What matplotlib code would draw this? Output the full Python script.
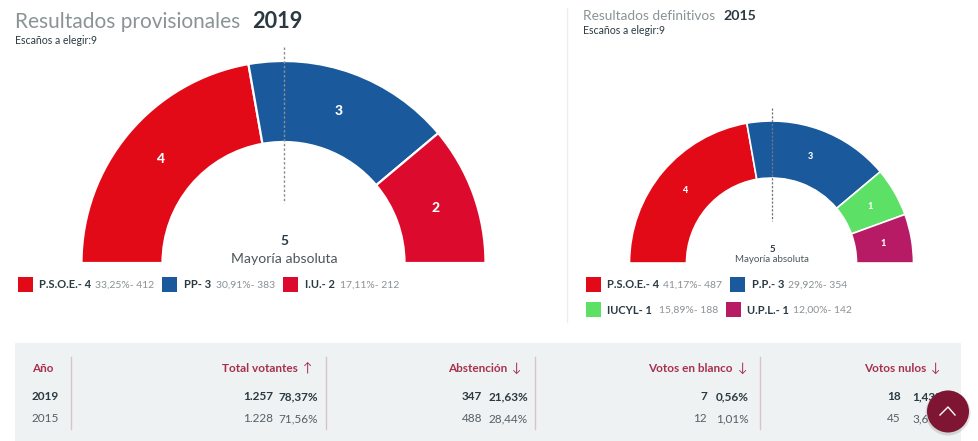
import math
import matplotlib
matplotlib.use('Agg')
import matplotlib.pyplot as plt
from matplotlib.patches import Circle, Rectangle

plt.rcParams['font.family'] = ['Lato', 'DejaVu Sans']

W, H = 979, 441
DARK = '#2b3a42'
GREY = '#8b9195'
WINE = '#a5314f'
RED = '#e30a17'
BLUE = '#1a5a9c'
CRIM = '#dc0a2d'
GREEN = '#5ce065'
PURPLE = '#b81b66'

# 2019
parties_19 = ['P.S.O.E.', 'PP', 'I.U.']
seats_19 = [4, 3, 2]
pct_19 = ['33,25%', '30,91%', '17,11%']
votes_19 = [412, 383, 212]
colors_19 = [RED, BLUE, CRIM]

# 2015
parties_15 = ['P.S.O.E.', 'P.P.', 'IUCYL', 'U.P.L.']
seats_15 = [4, 3, 1, 1]
pct_15 = ['41,17%', '29,92%', '15,89%', '12,00%']
votes_15 = [487, 354, 188, 142]
colors_15 = [RED, BLUE, GREEN, PURPLE]

# table
headers = ['Año', 'Total votantes', 'Abstención', 'Votos en blanco', 'Votos nulos']
arrows = ['', '↑', '↓', '↓', '↓']
years = ['2019', '2015']
counts_19 = ['1.257', '347', '7', '18']
rates_19 = ['78,37%', '21,63%', '0,56%', '1,43%']
counts_15 = ['1.228', '488', '12', '45']
rates_15 = ['71,56%', '28,44%', '1,01%', '3,61%']

fig = plt.figure(figsize=(W / 100, H / 100), dpi=100)
ax = fig.add_axes([0, 0, 1, 1])


def Y(y):
    return H - y


def hemicycle(seats, colors, cx, base, r, r_in, fs, lw):
    total = sum(seats)
    # hidden lower half so the seats fill only the top half
    wedges, _ = ax.pie(seats + [total], colors=colors + ['none'], startangle=180, counterclock=False,
                       center=(cx, Y(base)), radius=r, frame=True,
                       wedgeprops=dict(width=r - r_in, edgecolor='white', linewidth=lw))
    wedges[-1].set_visible(False)
    rm = (r + r_in) / 2
    done = 0
    for s in seats:
        a = math.pi - (done + s / 2) / total * math.pi
        ax.text(cx + rm * math.cos(a), Y(base) + rm * math.sin(a), str(s), color='white',
                fontsize=fs, fontweight=900, ha='center', va='center', zorder=4)
        done += s


hemicycle(seats_19, colors_19, 283.5, 263, 202, 121, 10, 1.6)
hemicycle(seats_15, colors_15, 771.5, 263, 142, 85, 6.5, 1.2)

ax.plot([284, 284], [Y(47), Y(203)], color='#8a8f92', lw=1.0, ls=(0, (1.8, 1.5)), zorder=5)
ax.plot([772, 772], [Y(108), Y(221)], color='#6f767a', lw=0.9, ls=(0, (1.8, 1.3)), zorder=5)
ax.plot([567, 567], [Y(8), Y(322)], color='#eeeeee', lw=1)

# titles
ax.text(15, Y(22), 'Resultados provisionales', fontsize=15, color='#8b9397', va='center')
ax.text(252, Y(21), '2019', fontsize=15.7, fontweight='bold', color=DARK, va='center')
ax.text(15, Y(40), 'Escaños a elegir:9', fontsize=7.6, color=DARK, va='center')
ax.text(583, Y(16), 'Resultados definitivos', fontsize=9.8, color='#8b9397', va='center')
ax.text(723, Y(16), '2015', fontsize=10.2, fontweight='bold', color=DARK, va='center')
ax.text(583, Y(31), 'Escaños a elegir:9', fontsize=7.6, color=DARK, va='center')

ax.text(284, Y(241), '5', fontsize=10, fontweight='bold', color=DARK, ha='center', va='center')
ax.text(284, Y(259), 'Mayoría absoluta', fontsize=10.1, color='#4d565b', ha='center', va='center')
ax.text(772, Y(249), '5', fontsize=7, fontweight='bold', color=DARK, ha='center', va='center')
ax.text(772, Y(260), 'Mayoría absoluta', fontsize=7, color='#4d565b', ha='center', va='center')


def legend_item(x_box, x_name, x_pct, y, name, seat, pct, votes, color):
    ax.add_patch(Rectangle((x_box, Y(y + 7)), 15, 15, color=color, lw=0))
    ax.text(x_name, Y(y), f'{name}- {seat}', fontsize=8, fontweight='bold', color=DARK, va='center')
    ax.text(x_pct, Y(y), f'{pct}- {votes}', fontsize=7.5, color=GREY, va='center')


for i, x_box, x_name, x_pct in zip(range(3), [18, 162, 283], [39, 184, 305], [95, 216, 340]):
    legend_item(x_box, x_name, x_pct, 285, parties_19[i], seats_19[i], pct_19[i], votes_19[i], colors_19[i])

legend_item(586, 607, 663, 285, parties_15[0], seats_15[0], pct_15[0], votes_15[0], colors_15[0])
legend_item(730, 752, 788, 285, parties_15[1], seats_15[1], pct_15[1], votes_15[1], colors_15[1])
legend_item(586, 607, 659, 310, parties_15[2], seats_15[2], pct_15[2], votes_15[2], colors_15[2])
legend_item(726, 747, 793, 310, parties_15[3], seats_15[3], pct_15[3], votes_15[3], colors_15[3])

# table
ax.add_patch(Rectangle((15, 0), 946, Y(343), color='#eff2f2', lw=0, zorder=0))
for x in [71, 326, 535, 760]:
    ax.plot([x, x], [Y(357), Y(429)], color='#d9c3c8', lw=1)
ax.text(32, Y(368), headers[0], fontsize=8.4, fontweight='bold', color=WINE, va='center')
ax.text(32, Y(397), years[0], fontsize=8.5, fontweight='bold', color=DARK, va='center')
ax.text(32, Y(419), years[1], fontsize=8.5, color='#555f64', va='center')

right_edges = [318, 528, 749, 945]
count_edges = [273, 482, 707, 901]
head_edges = [298, 507, 733, 926]
for i, (rx, cxr, hx) in enumerate(zip(right_edges, count_edges, head_edges)):
    ax.text(hx, Y(368), headers[i + 1], fontsize=8.45, fontweight='bold', color=WINE, ha='right', va='center')
    ax.text(hx + 5, Y(368), arrows[i + 1], fontsize=9, color=WINE, va='center')
    ax.text(cxr, Y(397), counts_19[i], fontsize=8.5, fontweight='bold', color=DARK, ha='right', va='center')
    ax.text(rx, Y(397), rates_19[i], fontsize=8.5, fontweight='bold', color=DARK, ha='right', va='center')
    ax.text(cxr, Y(419), counts_15[i], fontsize=8.5, color='#555f64', ha='right', va='center')
    ax.text(rx, Y(419), rates_15[i], fontsize=8.5, color='#555f64', ha='right', va='center')

# scroll-to-top button
ax.add_patch(Circle((948, Y(413)), 22.5, color='#000000', alpha=0.12, lw=0, zorder=6))
ax.add_patch(Circle((948, Y(411.5)), 21, color='#7d1533', lw=0, zorder=7))
ax.plot([940, 948, 955], [Y(415), Y(407), Y(415)], color='white', lw=1.0, zorder=8)

ax.set_xlim(0, W)
ax.set_ylim(0, H)
ax.set_aspect('auto')
ax.axis('off')
fig.savefig('out.png', dpi=100)
